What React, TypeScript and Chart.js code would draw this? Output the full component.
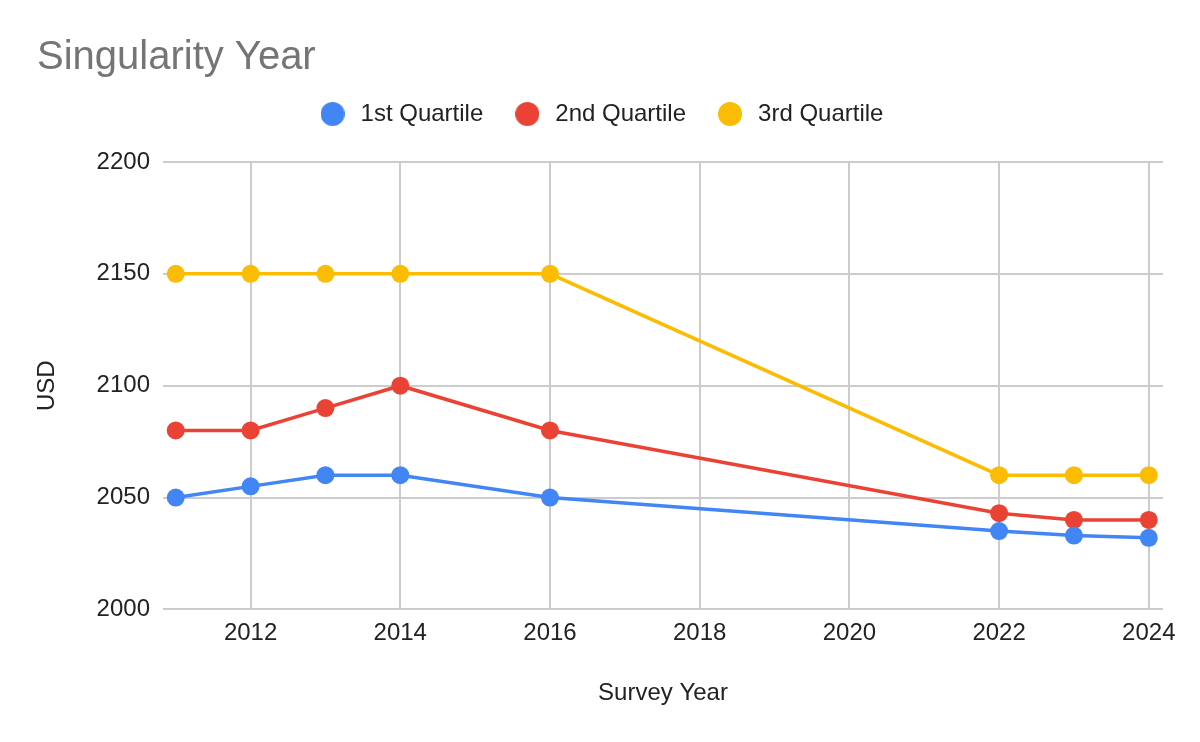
import React, { useEffect, useRef } from "react";
import { Chart, registerables } from "chart.js";

Chart.register(...registerables);

const surveyYears = [2011, 2012, 2013, 2014, 2016, 2022, 2023, 2024];
const firstQuartile = [2050, 2055, 2060, 2060, 2050, 2035, 2033, 2032];
const secondQuartile = [2080, 2080, 2090, 2100, 2080, 2043, 2040, 2040];
const thirdQuartile = [2150, 2150, 2150, 2150, 2150, 2060, 2060, 2060];
const seriesNames = ["1st Quartile", "2nd Quartile", "3rd Quartile"];
const seriesColors = ["#4285F4", "#EA4335", "#FBBC04"];
const xTickValues = [2012, 2014, 2016, 2018, 2020, 2022, 2024];
const yTickValues = [2000, 2050, 2100, 2150, 2200];
const xMin = 2010.83;
const xMax = 2024.19;
const yMin = 2000;
const yMax = 2200;

const FONT = "'Liberation Sans', Arial, sans-serif";

function makeDot(color: string): HTMLCanvasElement {
  const c = document.createElement("canvas");
  c.width = 24;
  c.height = 24;
  const g = c.getContext("2d")!;
  g.fillStyle = color;
  g.beginPath();
  g.arc(12, 12, 12, 0, Math.PI * 2);
  g.fill();
  return c;
}

export default function App() {
  const ref = useRef<HTMLCanvasElement | null>(null);

  useEffect(() => {
    if (!ref.current) return;
    Chart.defaults.font.family = FONT;
    const seriesValues = [firstQuartile, secondQuartile, thirdQuartile];
    const dots = seriesColors.map(makeDot);
    const chart = new Chart(ref.current, {
      type: "line",
      data: {
        datasets: seriesValues.map((vals, i) => ({
          label: seriesNames[i],
          data: surveyYears.map((yr, j) => ({ x: yr, y: vals[j] })),
          borderColor: seriesColors[i],
          backgroundColor: seriesColors[i],
          borderWidth: 3.5,
          pointRadius: 9,
          pointHoverRadius: 9,
          pointBorderWidth: 0,
          pointBackgroundColor: seriesColors[i],
          tension: 0,
          fill: false,
        })),
      },
      options: {
        animation: false,
        responsive: false,
        layout: { padding: { left: 37, right: 37, top: 0, bottom: 0 } },
        plugins: {
          title: {
            display: true,
            text: "Singularity Year",
            align: "start",
            color: "#757575",
            font: { size: 40, weight: "normal", lineHeight: 1, family: FONT },
            padding: { top: 38, bottom: -4 },
          },
          subtitle: {
            display: true,
            text: "",
            weight: 500,
            font: { size: 1, lineHeight: 1 },
            padding: { top: 25, bottom: 0 },
          } as any,
          legend: {
            display: true,
            position: "top",
            align: "center",
            labels: {
              usePointStyle: true,
              pointStyleWidth: 32,
              padding: 28,
              color: "#222222",
              font: { size: 24, family: FONT },
              generateLabels: (c: any) => {
                const items = (Chart.defaults.plugins.legend.labels as any).generateLabels(c);
                return items.map((it: any, i: number) => ({
                  ...it,
                  pointStyle: dots[i],
                  lineWidth: 0,
                }));
              },
            },
          },
          tooltip: { enabled: false },
        },
        scales: {
          x: {
            type: "linear",
            min: xMin,
            max: xMax,
            afterBuildTicks: (scale: any) => {
              scale.ticks = xTickValues.map((v) => ({ value: v }));
            },
            afterFit: (scale: any) => {
              scale.paddingLeft = 0;
              scale.paddingRight = 0;
            },
            ticks: {
              padding: 10,
              color: "#222222",
              font: { size: 24, family: FONT },
              maxRotation: 0,
              autoSkip: false,
              callback: (v: any) => String(v),
            },
            grid: { color: "#cccccc", lineWidth: 2, drawTicks: false },
            border: { display: false },
            title: {
              display: true,
              text: "Survey Year",
              color: "#222222",
              font: { size: 24, family: FONT },
              padding: { top: 21, bottom: 34 },
            },
          },
          y: {
            type: "linear",
            min: yMin,
            max: yMax,
            afterBuildTicks: (scale: any) => {
              scale.ticks = yTickValues.map((v) => ({ value: v }));
            },
            afterFit: (scale: any) => {
              scale.width = 126;
            },
            ticks: {
              padding: 13,
              color: "#222222",
              font: { size: 24, family: FONT },
              callback: (v: any) => String(v),
            },
            grid: { color: "#cccccc", lineWidth: 2, drawTicks: false },
            border: { display: false },
            title: {
              display: true,
              text: "USD",
              color: "#222222",
              font: { size: 24, family: FONT, lineHeight: 0.9 },
              padding: { top: 0, bottom: 38 },
            },
          },
        },
      },
    });
    return () => chart.destroy();
  }, []);

  return (
    <div style={{ position: "fixed", left: 0, top: 0, width: 1200, height: 742, background: "#fff" }}>
      <canvas ref={ref} width={1200} height={742} style={{ display: "block" }} />
    </div>
  );
}
